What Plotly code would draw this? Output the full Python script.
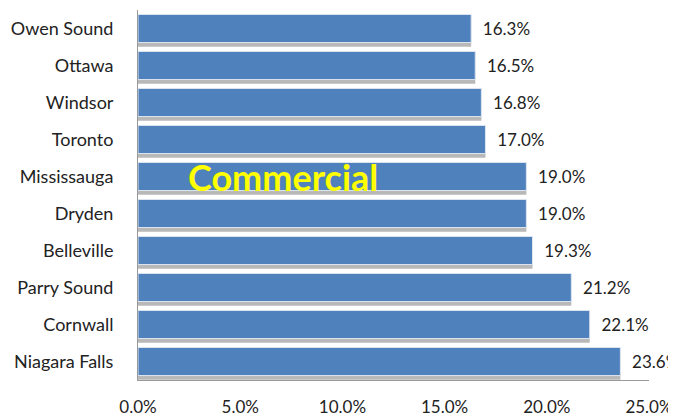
import plotly.graph_objects as go

cities = ["Owen Sound", "Ottawa", "Windsor", "Toronto", "Mississauga",
          "Dryden", "Belleville", "Parry Sound", "Cornwall", "Niagara Falls"]
values = [16.3, 16.5, 16.8, 17.0, 19.0, 19.0, 19.3, 21.2, 22.1, 23.6]
x_ticks = [0, 5, 10, 15, 20, 25]
x_tick_labels = ["0.0%", "5.0%", "10.0%", "15.0%", "20.0%", "25.0%"]
title_text = "Commercial"

FONT = "Lato"

fig = go.Figure()
# shadow
fig.add_trace(go.Bar(
    y=cities, x=values, orientation="h",
    marker=dict(color="#b8b8b8", line=dict(width=0)),
    width=0.76, offset=-0.49,
    hoverinfo="skip", showlegend=False,
))
fig.add_trace(go.Bar(
    y=cities, x=values, orientation="h",
    marker=dict(color="#4f81bd", line=dict(color="#dfe6f0", width=1)),
    width=0.76, offset=-0.38,
    text=[f"  {v:.1f}%" for v in values],
    textposition="outside", cliponaxis=False,
    textfont=dict(family=FONT, size=17, color="#222222"),
    showlegend=False,
))

fig.add_annotation(
    x=7.1, y="Mississauga", text=f"<b>{title_text}</b>", showarrow=False,
    font=dict(family=FONT, size=36, color="#ffff00"),
)

# the page body has an 8px default margin, so the figure is 8px smaller
fig.update_layout(
    width=668, height=409,
    margin=dict(l=130, r=27, t=2, b=37),
    paper_bgcolor="white", plot_bgcolor="white",
    barmode="overlay",
    xaxis=dict(
        range=[0, 25], tickvals=x_ticks, ticktext=x_tick_labels,
        showgrid=False, zeroline=False, showline=True, linecolor="#999999",
        linewidth=1, ticks="", ticklabelstandoff=12, automargin=False,
        tickfont=dict(family=FONT, size=17, color="#222222"),
    ),
    yaxis=dict(
        categoryorder="array", categoryarray=cities[::-1],
        range=[-0.5, 9.5], automargin=False,
        showgrid=False, zeroline=False, showline=True, linecolor="#999999",
        linewidth=1, ticks="", ticklabelstandoff=20,
        tickfont=dict(family=FONT, size=18, color="#222222"),
    ),
)

fig.write_html("out.html")
